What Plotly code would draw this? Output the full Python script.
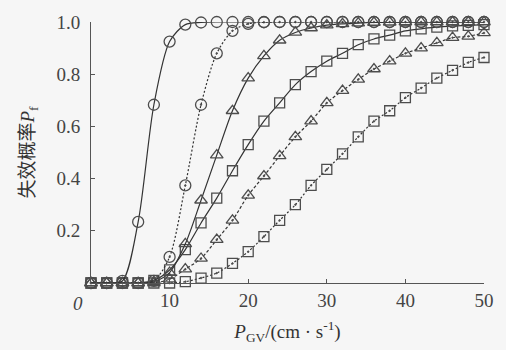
import plotly.graph_objects as go

# Peak ground velocity (cm/s), sampled every 2 units
pgv = [0, 2, 4, 6, 8, 10, 12, 14, 16, 18, 20, 22, 24, 26, 28, 30,
       32, 34, 36, 38, 40, 42, 44, 46, 48, 50]

# Failure probability curves
pf_circle_solid = [0, 0, 0.008, 0.234, 0.683, 0.925, 0.99, 0.998, 1, 1, 1, 1, 1, 1, 1, 1,
                   1, 1, 1, 1, 1, 1, 1, 1, 1, 1]
pf_circle_dot = [0, 0, 0, 0, 0.008, 0.10, 0.374, 0.683, 0.88, 0.966, 0.993, 0.999, 1, 1, 1, 1,
                 1, 1, 1, 1, 1, 1, 1, 1, 1, 1]
pf_tri_solid = [0, 0, 0, 0, 0.005, 0.04, 0.15, 0.317, 0.49, 0.66, 0.785, 0.87, 0.93, 0.96, 0.977, 0.988,
                0.993, 0.996, 0.998, 0.999, 1, 1, 1, 1, 1, 1]
pf_sq_solid = [0, 0, 0, 0, 0.01, 0.05, 0.128, 0.23, 0.325, 0.43, 0.53, 0.62, 0.69, 0.76, 0.81, 0.85,
               0.88, 0.913, 0.935, 0.95, 0.966, 0.974, 0.98, 0.985, 0.987, 0.99]
pf_tri_dot = [0, 0, 0, 0, 0, 0.015, 0.053, 0.094, 0.166, 0.24, 0.336, 0.41, 0.487, 0.56, 0.62, 0.69,
              0.737, 0.78, 0.82, 0.85, 0.88, 0.90, 0.92, 0.94, 0.945, 0.958]
pf_sq_dot = [0, 0, 0, 0, 0, 0, 0.005, 0.019, 0.038, 0.075, 0.12, 0.178, 0.24, 0.30, 0.374, 0.435,
             0.495, 0.56, 0.62, 0.66, 0.71, 0.747, 0.785, 0.815, 0.845, 0.864]

y_ticks = [0.2, 0.4, 0.6, 0.8, 1.0]
y_ticktext = ["0.2", "0.4", "0.6", "0.8", "1.0"]
x_ticks = [10, 20, 30, 40, 50]

LINE = "#333333"
MARK = "#4d4d4d"
BG = "#f6f6f6"
SERIF = "Liberation Serif, Times New Roman, Noto Sans CJK SC, serif"

# (values, marker symbol, marker size, line dash)
series = [
    (pf_sq_dot, "square-open-dot", 10, "2px,2px"),
    (pf_tri_dot, "triangle-up-open-dot", 11, "3px,2px"),
    (pf_sq_solid, "square-open", 10, "solid"),
    (pf_tri_solid, "triangle-up-open", 11, "solid"),
    (pf_circle_dot, "circle-open-dot", 11, "2px,2px"),
    (pf_circle_solid, "circle-open", 11, "solid"),
]

fig = go.Figure()
for ys, sym, size, dash in series:
    fig.add_trace(go.Scatter(
        x=pgv, y=ys, mode="lines+markers",
        line=dict(color=LINE, width=1.2, dash=dash, shape="spline", smoothing=0.8),
        marker=dict(symbol=sym, size=size, color=MARK, line=dict(color=MARK, width=1.3)),
        cliponaxis=False, showlegend=False,
    ))

fig.update_xaxes(
    range=[0, 50], tickvals=x_ticks, ticks="inside", ticklen=4, tickcolor="#555",
    showline=True, linecolor="#555", linewidth=1, showgrid=False, zeroline=False,
    tickfont=dict(family=SERIF, size=19, color="#444"),
    title=dict(text="<i>P</i><sub>GV</sub>/(cm · s<sup>-1</sup>)",
               font=dict(family=SERIF, size=19, color="#333"), standoff=14),
)
fig.update_yaxes(
    range=[0, 1], tickvals=y_ticks, ticktext=y_ticktext, ticks="inside", ticklen=4,
    tickcolor="#555", showline=True, linecolor="#555", linewidth=1, showgrid=False,
    zeroline=False, ticklabelstandoff=6,
    tickfont=dict(family=SERIF, size=19, color="#444"),
    title=dict(text="失效概率<i>P</i><sub>f</sub>",
               font=dict(family=SERIF, size=19, color="#333"), standoff=16),
)

fig.add_annotation(x=0, y=0, xref="x", yref="y", text="<i>0</i>", showarrow=False,
                   xshift=-13, yshift=-20,
                   font=dict(family=SERIF, size=19, color="#444"))

fig.update_layout(
    width=506, height=350,
    margin=dict(l=91, r=18, t=17, b=67),
    paper_bgcolor=BG, plot_bgcolor=BG,
)

fig.write_html("out.html")
